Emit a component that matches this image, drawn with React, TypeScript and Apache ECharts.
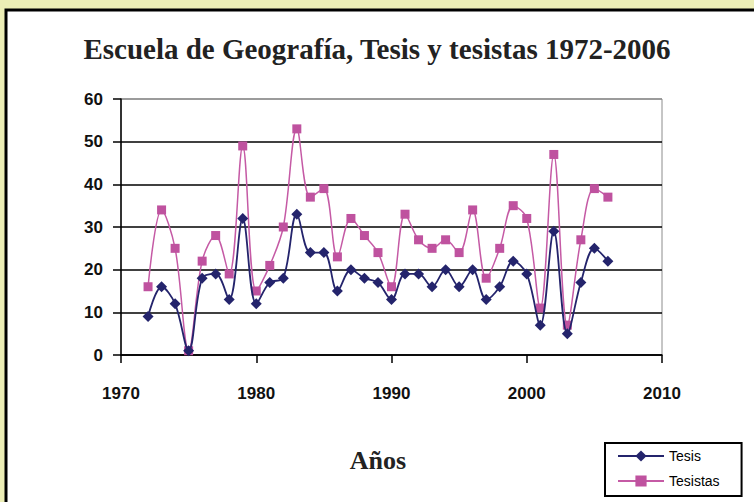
import React, { useEffect, useRef } from 'react';
import * as echarts from 'echarts';

const years = [1972, 1973, 1974, 1975, 1976, 1977, 1978, 1979, 1980, 1981, 1982, 1983, 1984, 1985, 1986, 1987, 1988, 1989, 1990, 1991, 1992, 1993, 1994, 1995, 1996, 1997, 1998, 1999, 2000, 2001, 2002, 2003, 2004, 2005, 2006];
const tesis = [9, 16, 12, 1, 18, 19, 13, 32, 12, 17, 18, 33, 24, 24, 15, 20, 18, 17, 13, 19, 19, 16, 20, 16, 20, 13, 16, 22, 19, 7, 29, 5, 17, 25, 22];
const tesistas = [16, 34, 25, 1, 22, 28, 19, 49, 15, 21, 30, 53, 37, 39, 23, 32, 28, 24, 16, 33, 27, 25, 27, 24, 34, 18, 25, 35, 32, 11, 47, 7, 27, 39, 37];

const titleText = 'Escuela de Geografía, Tesis y tesistas 1972-2006';
const xName = 'Años';
const seriesNames = ['Tesis', 'Tesistas'];

export default function App() {
  const ref = useRef<HTMLDivElement>(null);
  useEffect(() => {
    if (!ref.current) return;
    const chart = echarts.init(ref.current, null, { renderer: 'svg' });
    const serif = '"Liberation Serif", "DejaVu Serif", serif';
    const sans = '"Liberation Sans", Arial, sans-serif';
    chart.setOption({
      animation: false,
      backgroundColor: '#eceeb6',
      graphic: [
        {
          type: 'rect',
          shape: { x: 6, y: 10, width: 800, height: 600 },
          style: { fill: '#ffffff', stroke: '#000000', lineWidth: 3 },
          z: -10,
          silent: true,
        },
        {
          type: 'text',
          x: 378,
          y: 460,
          style: {
            text: xName,
            font: `bold 26px ${serif}`,
            fill: '#222222',
            textAlign: 'center',
            textVerticalAlign: 'middle',
          },
        },
      ],
      title: {
        text: titleText,
        left: 'center',
        top: 29,
        textStyle: { fontFamily: serif, fontSize: 29, fontWeight: 'bold', color: '#222222' },
      },
      legend: {
        orient: 'vertical',
        left: 605,
        top: 443,
        backgroundColor: '#ffffff',
        borderColor: '#000000',
        borderWidth: 2,
        borderRadius: 0,
        padding: [6, 22, 8, 12],
        itemWidth: 46,
        itemHeight: 14,
        itemGap: 11,
        textStyle: { fontFamily: sans, fontSize: 14, color: '#000000' },
        data: seriesNames,
      },
      grid: {
        left: 121,
        top: 99,
        width: 541,
        height: 256,
        show: true,
        borderColor: '#8c8c8c',
        borderWidth: 1,
        backgroundColor: 'transparent',
      },
      xAxis: {
        type: 'value',
        min: 1970,
        max: 2010,
        interval: 10,
        axisLine: { show: true, lineStyle: { color: '#000000', width: 1.5 } },
        axisTick: { show: true, inside: false, length: 8, lineStyle: { color: '#000000', width: 1.5 } },
        splitLine: { show: false },
        axisLabel: {
          margin: 30,
          fontFamily: sans,
          fontSize: 17,
          fontWeight: 'bold',
          color: '#111111',
          formatter: (v: number) => String(v),
        },
      },
      yAxis: {
        type: 'value',
        min: 0,
        max: 60,
        interval: 10,
        axisLine: { show: true, lineStyle: { color: '#000000', width: 1.5 } },
        axisTick: { show: true, inside: false, length: 8, lineStyle: { color: '#000000', width: 1.5 } },
        splitLine: {
          show: true,
          lineStyle: { color: ['#000000', '#000000', '#000000', '#000000', '#000000', '#000000', '#8c8c8c'], width: 1.5 },
        },
        axisLabel: {
          margin: 18,
          fontFamily: sans,
          fontSize: 17,
          fontWeight: 'bold',
          color: '#111111',
        },
      },
      series: [
        {
          name: seriesNames[0],
          type: 'line',
          smooth: 0.35,
          data: years.map((y, i) => [y, tesis[i]]),
          symbol: 'diamond',
          symbolSize: 11,
          itemStyle: { color: '#24246c' },
          lineStyle: { color: '#24246c', width: 1.8 },
          z: 3,
        },
        {
          name: seriesNames[1],
          type: 'line',
          smooth: 0.35,
          data: years.map((y, i) => [y, tesistas[i]]),
          symbol: 'rect',
          symbolSize: 9,
          itemStyle: { color: '#bf529f' },
          lineStyle: { color: '#c55aa5', width: 1.5 },
          z: 2,
        },
      ],
    });
    return () => chart.dispose();
  }, []);
  return <div ref={ref} style={{ position: 'fixed', left: 0, top: 0, width: 754, height: 502 }} />;
}
